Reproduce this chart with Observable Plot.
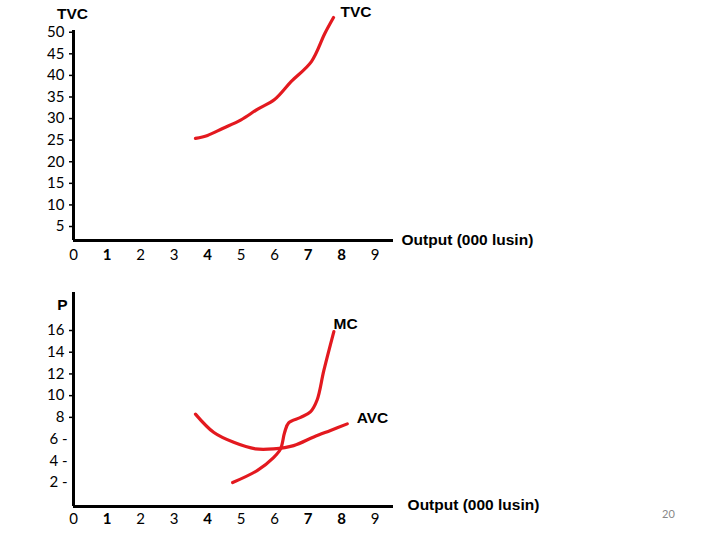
<!DOCTYPE html>
<html>
<head>
<meta charset="utf-8">
<script src="https://cdn.jsdelivr.net/npm/d3@7"></script>
<script src="https://cdn.jsdelivr.net/npm/@observablehq/plot@0.6"></script>
<style>
  body { margin: 0; background: #fff; }
  #wrap { position: relative; width: 720px; height: 540px; overflow: hidden; font-family: Lato, "Open Sans", sans-serif; }
  #wrap svg { display: block; }
  #page { position: absolute; left: 662px; top: 507px; font-size: 11px; color: #888; }
</style>
</head>
<body>
<div id="wrap"><div id="page">20</div></div>
<script>
// ---- data ----
const xTicksRegular = [0, 2, 3, 5, 6, 9];
const xTicksBold = [1, 4, 7, 8];
const tvcTicks = [5, 10, 15, 20, 25, 30, 35, 40, 45, 50];
const pTicksA = [8, 10, 12, 14, 16];
const pTicksB = [2, 4, 6];

const tvcX = [3.64, 4.0, 4.45, 5.0, 5.5, 6.0, 6.5, 7.1, 7.5, 7.76];
const tvcY = [25.4, 26.1, 27.7, 29.7, 32.2, 34.4, 38.6, 43.2, 49.7, 53.4];

const mcX = [4.75, 5.48, 5.97, 6.18, 6.3, 6.42, 6.78, 7.07, 7.27, 7.47, 7.77];
const mcY = [2.0, 3.1, 4.3, 5.1, 6.6, 7.5, 8.0, 8.5, 9.6, 12.3, 15.9];

const avcX = [3.64, 4.19, 4.78, 5.43, 5.97, 6.57, 7.17, 7.67, 8.17];
const avcY = [8.3, 6.6, 5.7, 5.1, 5.1, 5.4, 6.2, 6.8, 7.4];

const RED = "#e3191f";
const LABEL_FONT = "'Liberation Sans', Arial, sans-serif";
const xDomain = [0, 9.55];
const topY = [1.76, 50.4];
const botY = [-0.21, 19.5];

const tvcData = tvcX.map((x, i) => ({x, y: tvcY[i]}));
const mcData = mcX.map((x, i) => ({x, y: mcY[i]}));
const avcData = avcX.map((x, i) => ({x, y: avcY[i]}));

const common = {
  width: 720, height: 270,
  marginLeft: 73, marginRight: 327,
  style: {fontFamily: "Lato, 'Open Sans', sans-serif", fontSize: "15px", color: "black", background: "white", overflow: "visible"}
};

const lbl = (s, x, y, opts = {}) => Plot.text([s], {x, y, text: d => d, fontWeight: "bold", fontSize: 15.5, fontFamily: LABEL_FONT, ...opts});

const topChart = Plot.plot({
  ...common,
  marginTop: 30, marginBottom: 30,
  x: {domain: xDomain},
  y: {domain: topY},
  marks: [
    Plot.axisX({ticks: xTicksRegular, tickSize: 0, tickPadding: 9, label: null, fontSize: 15}),
    Plot.axisX({ticks: xTicksBold, tickSize: 0, tickPadding: 9, label: null, fontSize: 15, fontWeight: "bold"}),
    Plot.axisY({ticks: tvcTicks, tickSize: 4, tickPadding: 5, label: null, fontSize: 15, strokeWidth: 1.5}),
    Plot.ruleX([0], {strokeWidth: 3}),
    Plot.ruleY([topY[0]], {strokeWidth: 3}),
    Plot.line(tvcData, {x: "x", y: "y", stroke: RED, strokeWidth: 3.2, curve: "catmull-rom"}),
    lbl("TVC", -0.03, 54.2),
    lbl("TVC", 7.97, 54.6, {textAnchor: "start"}),
    lbl("Output (000 lusin)", 9.79, topY[0], {textAnchor: "start"})
  ]
});

const botChart = Plot.plot({
  ...common,
  marginTop: 22, marginBottom: 34,
  x: {domain: xDomain},
  y: {domain: botY},
  marks: [
    Plot.axisX({ticks: xTicksRegular, tickSize: 0, tickPadding: 7, label: null, fontSize: 15}),
    Plot.axisX({ticks: xTicksBold, tickSize: 0, tickPadding: 7, label: null, fontSize: 15, fontWeight: "bold"}),
    Plot.axisY({ticks: pTicksA, tickSize: 4, tickPadding: 5, label: null, fontSize: 15, strokeWidth: 1.5}),
    Plot.axisY({ticks: pTicksB, tickSize: 0, tickPadding: 6, label: null, fontSize: 15, tickFormat: d => d + " -"}),
    Plot.ruleX([0], {strokeWidth: 3}),
    Plot.ruleY([botY[0]], {strokeWidth: 3}),
    Plot.line(avcData, {x: "x", y: "y", stroke: RED, strokeWidth: 3.2, curve: "catmull-rom"}),
    Plot.line(mcData, {x: "x", y: "y", stroke: RED, strokeWidth: 3.2, curve: "catmull-rom"}),
    lbl("P", -0.33, 18.3),
    lbl("MC", 7.76, 16.6, {textAnchor: "start"}),
    lbl("AVC", 8.45, 7.9, {textAnchor: "start"}),
    lbl("Output (000 lusin)", 9.97, -0.03, {textAnchor: "start"})
  ]
});

const wrap = document.getElementById("wrap");
wrap.insertBefore(botChart, wrap.firstChild);
wrap.insertBefore(topChart, wrap.firstChild);
</script>
</body>
</html>
